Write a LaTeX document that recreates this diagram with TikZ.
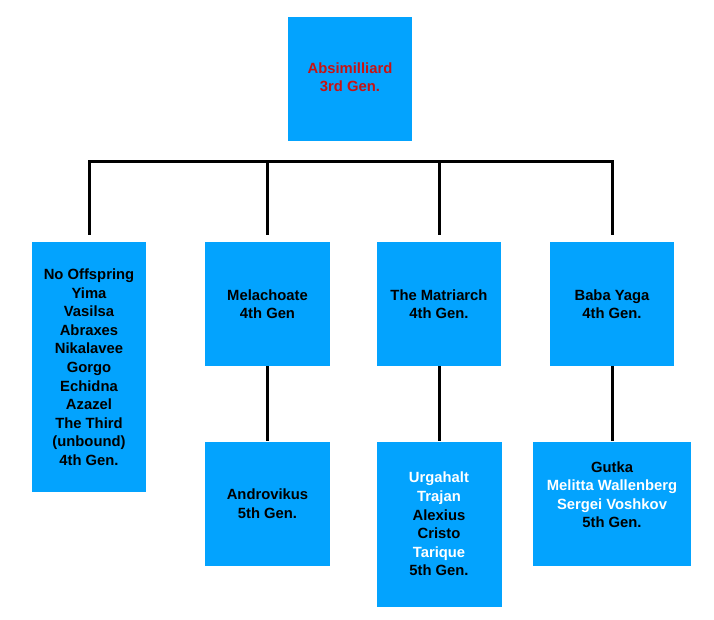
\documentclass[tikz,border=0pt]{standalone}
\usepackage{fontspec}
\setmainfont{Liberation Sans}
\usetikzlibrary{positioning}
\definecolor{boxblue}{RGB}{3,163,254}
\definecolor{namered}{RGB}{200,18,18}
\newcommand{\wname}[1]{\textcolor{white}{#1}}
\begin{document}
\begin{tikzpicture}[x=1pt,y=1pt,node distance=75pt]
\tikzstyle{gen}=[fill=boxblue,inner sep=0pt,align=center,font=\fontsize{14.8}{18.6}\selectfont\bfseries,
  minimum width=124pt,minimum height=124pt]
\tikzstyle{link}=[line width=3pt]
\useasboundingbox (0,0) rectangle (714,-620);
\node (root) [gen,text=namered,text depth=4pt] at (350,-79) {Absimilliard\\3rd Gen.};
\node (a) [gen,anchor=north,minimum width=114pt,minimum height=250pt] at (89,-242)
  {No Offspring\\Yima\\Vasilsa\\Abraxes\\Nikalavee\\Gorgo\\Echidna\\Azazel\\The Third\\(unbound)\\4th Gen.};
\node (b) [gen,anchor=north,minimum width=125pt] at (267.5,-242) {Melachoate\\4th Gen};
\node (c) [gen,anchor=north] at (439,-242) {The Matriarch\\4th Gen.};
\node (d) [gen,anchor=north] at (612,-242) {Baba Yaga\\4th Gen.};
\node (e) [gen,below=of b,minimum width=125pt] {Androvikus\\5th Gen.};
\node (f) [gen,below=of c,minimum width=125pt,minimum height=165pt]
  {\wname{Urgahalt}\\\wname{Trajan}\\Alexius\\Cristo\\\wname{Tarique}\\5th Gen.};
\node (g) [gen,below=of d,minimum width=158pt,text depth=18pt]
  {Gutka\\\wname{Melitta Wallenberg}\\\wname{Sergei Voshkov}\\5th Gen.};
\coordinate (bar) at (0,-162);
\draw[link] ([yshift=7pt]a.north) |- (bar -| d.north) -- ([yshift=7pt]d.north);
\draw[link] ([yshift=7pt]b.north) -- (b.north |- bar);
\draw[link] ([yshift=7pt]c.north) -- (c.north |- bar);
\draw[link] (b) -- (e);
\draw[link] (c) -- (f);
\draw[link] (d) -- (g);
\end{tikzpicture}
\end{document}
